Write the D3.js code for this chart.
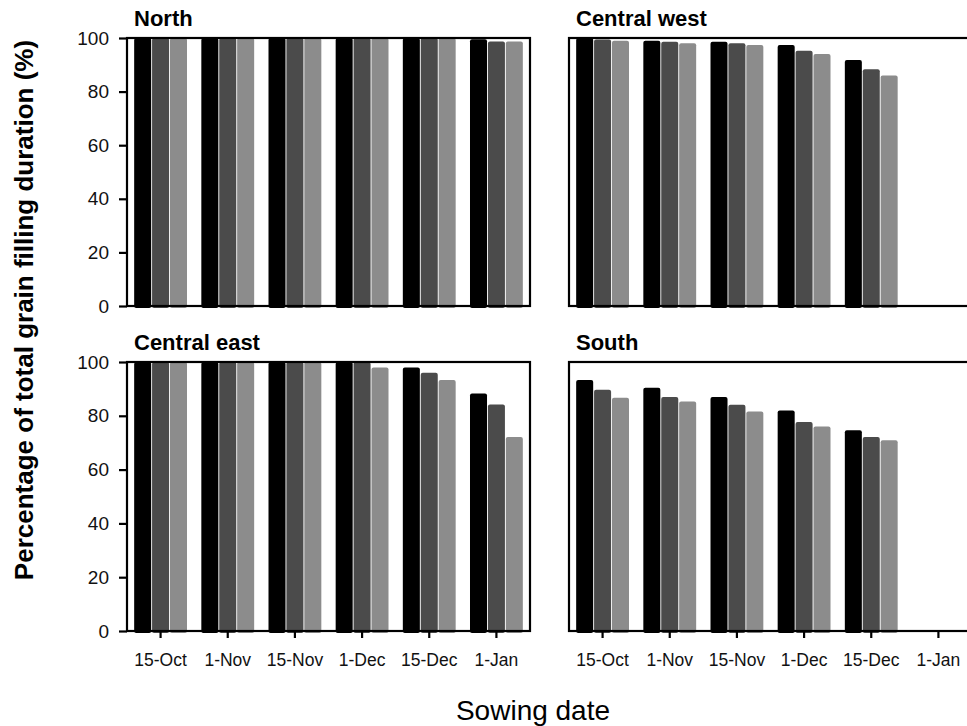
<!DOCTYPE html>
<html>
<head>
<meta charset="utf-8">
<script src="https://cdn.jsdelivr.net/npm/d3@7"></script>
<style>
  body { margin: 0; background: #fff; }
  text { font-family: Arial, "Liberation Sans", sans-serif; }
</style>
</head>
<body>
<div class="chart"></div>
<script>
const width = 967;
const height = 726;

// sowing dates on the x axis
const dates = ["15-Oct", "1-Nov", "15-Nov", "1-Dec", "15-Dec", "1-Jan"];
const series = ["s1", "s2", "s3"];
const yTicks = [0, 20, 40, 60, 80, 100];

// values per date: [s1, s2, s3]; null = no bar
const north = [
  [100, 100, 100], [100, 100, 100], [100, 100, 100],
  [100, 100, 100], [100, 100, 100], [99.5, 98.7, 98.7]
];
const centralWest = [
  [100, 99.4, 99], [99, 98.6, 98], [98.6, 98, 97.4],
  [97.4, 95.2, 94], [91.8, 88.3, 86], [null, null, null]
];
const centralEast = [
  [100, 100, 100], [100, 100, 100], [100, 100, 100],
  [100, 100, 98], [98, 96, 93.3], [88.3, 84.2, 72.1]
];
const south = [
  [93.3, 89.7, 86.7], [90.4, 87, 85.3], [87, 84.1, 81.6],
  [82, 77.7, 76], [74.6, 72.1, 70.9], [null, null, null]
];

const color = d3.scaleOrdinal().domain(series).range(["#000000", "#4b4b4b", "#8c8c8c"]);

const panels = [
  { title: "North", data: north, x0: 127, x1: 530, top: 38, bottom: 306, yAxis: true, xAxis: false },
  { title: "Central west", data: centralWest, x0: 569, x1: 972, top: 38, bottom: 306, yAxis: false, xAxis: false },
  { title: "Central east", data: centralEast, x0: 127, x1: 530, top: 362, bottom: 631, yAxis: true, xAxis: true },
  { title: "South", data: south, x0: 569, x1: 972, top: 362, bottom: 631, yAxis: false, xAxis: true }
];

const svg = d3.select(".chart")
  .append("svg")
  .attr("width", width)
  .attr("height", height);

panels.forEach((p) => {
  const x = d3.scaleBand().domain(dates).range([p.x0, p.x1]).padding(0);
  const xs = d3.scaleBand().domain(series).range([0, x.bandwidth()])
    .paddingInner(0.05).paddingOuter(0.4);
  const y = d3.scaleLinear().domain([0, 100]).range([p.bottom, p.top]);

  const g = svg.append("g");

  const groups = g.selectAll("g.group")
    .data(dates.map((d, i) => ({ date: d, vals: p.data[i] })))
    .enter()
    .append("g")
    .attr("transform", (d) => `translate(${x(d.date)},0)`);

  groups.selectAll("rect")
    .data((d) => series.map((s, j) => ({ s: s, v: d.vals[j] })).filter((b) => b.v != null))
    .enter()
    .append("rect")
    .attr("x", (b) => xs(b.s))
    .attr("y", (b) => y(b.v))
    .attr("width", xs.bandwidth())
    .attr("height", (b) => y(0) - y(b.v) + 2)
    .attr("rx", 2)
    .attr("fill", (b) => color(b.s));

  // frame
  g.append("rect")
    .attr("x", p.x0)
    .attr("y", p.top)
    .attr("width", p.x1 - p.x0)
    .attr("height", p.bottom - p.top)
    .attr("fill", "none")
    .attr("stroke", "#000")
    .attr("stroke-width", 2.2);

  if (p.yAxis) {
    const ya = g.append("g")
      .attr("transform", `translate(${p.x0},0)`)
      .call(d3.axisLeft(y).tickValues(yTicks).tickSize(8).tickPadding(10));
    ya.select(".domain").remove();
    ya.selectAll("line").attr("stroke-width", 2.2);
    ya.selectAll("text").attr("font-size", "19px").attr("fill", "#111");
  }

  if (p.xAxis) {
    const xa = g.append("g")
      .attr("transform", `translate(0,${p.bottom})`)
      .call(d3.axisBottom(x).tickSize(7).tickPadding(16));
    xa.select(".domain").remove();
    xa.selectAll("line").attr("stroke-width", 2.2);
    xa.selectAll("text").attr("font-size", "17.5px").attr("fill", "#111");
  }

  g.append("text")
    .attr("x", p.x0 + 7)
    .attr("y", p.top - 12)
    .attr("font-size", "22px")
    .attr("font-weight", "bold")
    .text(p.title);
});

// axis titles
svg.append("text")
  .attr("transform", "translate(33,310) rotate(-90)")
  .attr("text-anchor", "middle")
  .attr("font-size", "26px")
  .attr("font-weight", "bold")
  .text("Percentage of total grain filling duration (%)");

svg.append("text")
  .attr("x", 533)
  .attr("y", 720)
  .attr("text-anchor", "middle")
  .attr("font-size", "28px")
  .text("Sowing date");
</script>
</body>
</html>
